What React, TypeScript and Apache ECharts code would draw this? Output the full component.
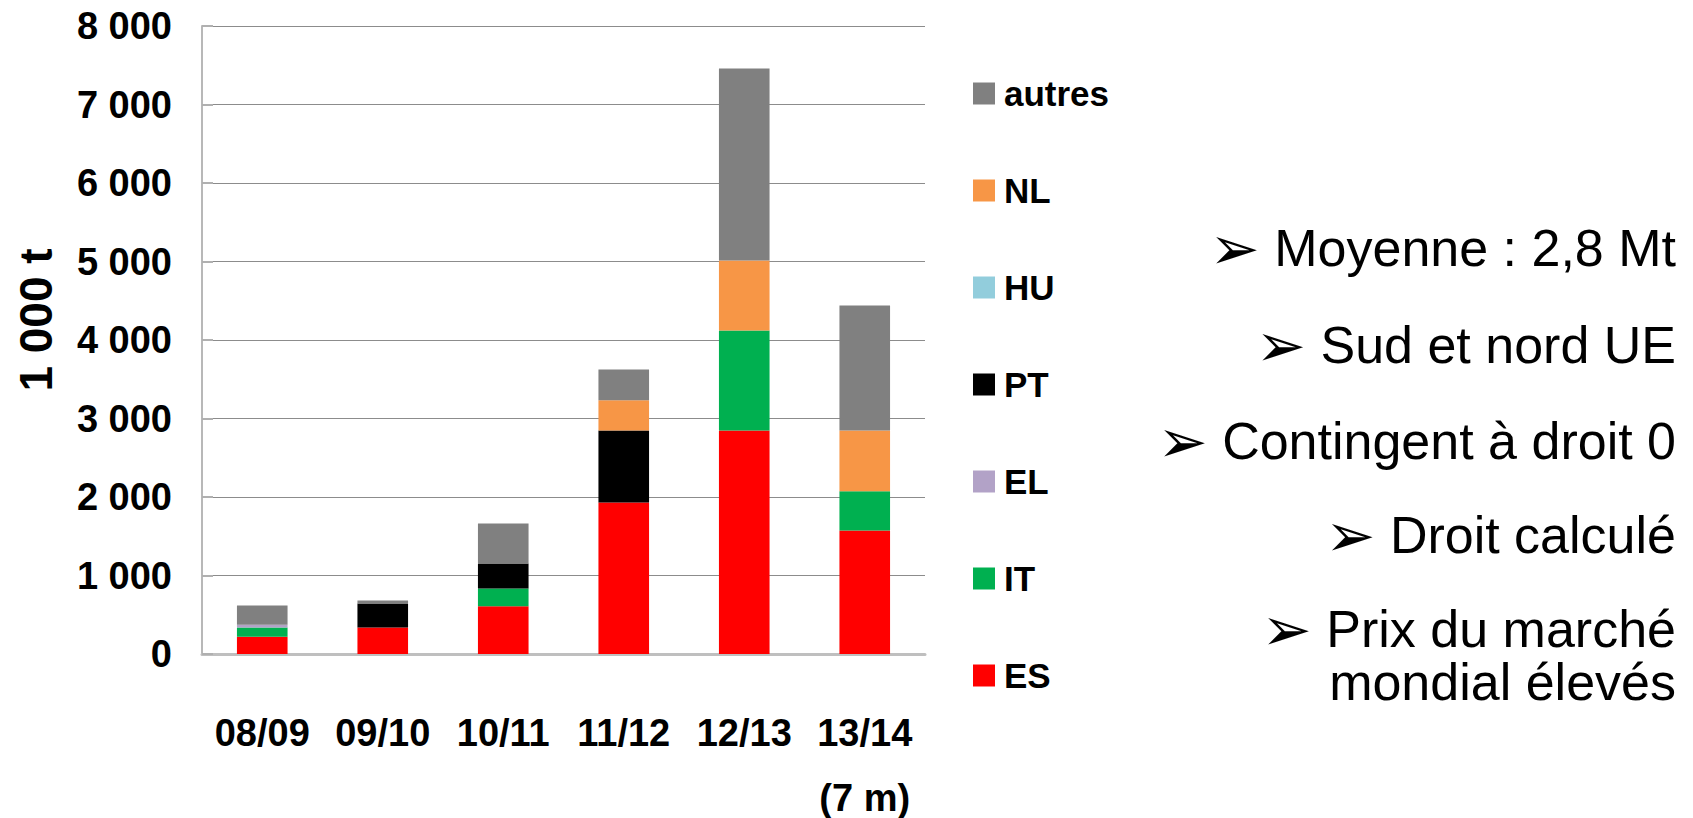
import React, { useEffect, useRef } from "react";
import * as echarts from "echarts";

const categories = ["08/09", "09/10", "10/11", "11/12", "12/13", "13/14\n(7 m)"];
const ES = [221, 336, 609, 1930, 2847, 1572];
const IT = [115, 0, 225, 0, 1275, 502];
const EL = [38, 0, 0, 0, 0, 0];
const PT = [0, 307, 319, 917, 0, 0];
const HU = [0, 0, 0, 0, 0, 0];
const NL = [0, 0, 0, 384, 891, 773];
const autres = [243, 38, 511, 394, 2447, 1592];

const yTicks = [0, 1000, 2000, 3000, 4000, 5000, 6000, 7000, 8000];
const yTickLabels = ["0", "1 000", "2 000", "3 000", "4 000", "5 000", "6 000", "7 000", "8 000"];

const bullets = [
  "Moyenne : 2,8 Mt",
  "Sud et nord UE",
  "Contingent à droit 0",
  "Droit calculé",
  "Prix du marché",
  "mondial élevés",
];
const bulletHasArrow = [true, true, true, true, true, false];

const seriesDefs = [
  { name: "ES", data: ES, color: "#FF0000" },
  { name: "IT", data: IT, color: "#00B050" },
  { name: "EL", data: EL, color: "#B2A2C7" },
  { name: "PT", data: PT, color: "#000000" },
  { name: "HU", data: HU, color: "#92CDDC" },
  { name: "NL", data: NL, color: "#F79646" },
  { name: "autres", data: autres, color: "#808080" },
];

const SANS = "'Liberation Sans', Arial, sans-serif";

export default function App() {
  const ref = useRef<HTMLDivElement>(null);
  useEffect(() => {
    document.body.style.margin = "0";
    const chart = echarts.init(ref.current!, null, { renderer: "svg" });
    const bulletY = [248, 345, 441, 535, 629, 682];
    chart.setOption({
      animation: false,
      backgroundColor: "#ffffff",
      grid: {
        left: 202,
        right: 768,
        top: 26,
        bottom: 164,
        containLabel: false,
        outerBoundsMode: "none",
      },
      legend: {
        orient: "vertical",
        left: 968,
        top: 71,
        itemGap: 62,
        itemWidth: 22,
        itemHeight: 22,
        icon: "rect",
        selectedMode: false,
        data: ["autres", "NL", "HU", "PT", "EL", "IT", "ES"],
        textStyle: {
          fontFamily: SANS,
          fontWeight: "bold",
          fontSize: 35,
          lineHeight: 35,
          color: "#000",
          padding: [0, 0, 0, 4],
        },
      },
      xAxis: {
        type: "category",
        data: categories,
        axisLine: { show: true, lineStyle: { color: "#bfbfbf", width: 3 } },
        axisTick: { show: false },
        axisLabel: {
          fontFamily: SANS,
          fontWeight: "bold",
          fontSize: 38,
          lineHeight: 65,
          color: "#000",
          margin: 46,
          interval: 0,
        },
      },
      yAxis: {
        type: "value",
        min: 0,
        max: 8000,
        interval: 1000,
        axisLine: { show: true, lineStyle: { color: "#b8b8b8", width: 2 } },
        axisTick: { show: true, inside: true, length: 11, lineStyle: { color: "#b0b0b0", width: 2 } },
        splitLine: { show: true, lineStyle: { color: "#8c8c8c", width: 1 } },
        axisLabel: {
          fontFamily: SANS,
          fontWeight: "bold",
          fontSize: 38,
          color: "#000",
          margin: 30,
          formatter: (v: number) => {
            const i = yTicks.indexOf(v);
            return i >= 0 ? yTickLabels[i] : String(v);
          },
        },
      },
      series: seriesDefs.map((s) => ({
        name: s.name,
        type: "bar",
        stack: "total",
        barWidth: "42%",
        data: s.data,
        itemStyle: { color: s.color },
        emphasis: { disabled: true },
      })),
      graphic: [
        {
          type: "text",
          x: 36,
          y: 320,
          rotation: Math.PI / 2,
          style: {
            text: "1 000 t",
            fontFamily: SANS,
            fontWeight: "bold",
            fontSize: 46,
            fill: "#000",
            align: "center",
            verticalAlign: "middle",
          },
        },
        ...bullets.map((b, i) => ({
          type: "text",
          x: 1676,
          y: bulletY[i],
          style: {
            text: bulletHasArrow[i] ? "{a|➢}{t| " + b + "}" : "{t|" + b + "}",
            fill: "#000",
            align: "right",
            verticalAlign: "middle",
            rich: {
              a: { fontFamily: "'DejaVu Sans', sans-serif", fontSize: 60, fill: "#000", verticalAlign: "middle" },
              t: { fontFamily: SANS, fontSize: 52, fill: "#000", verticalAlign: "middle" },
            },
          },
        })),
      ],
    });
    return () => chart.dispose();
  }, []);
  return <div ref={ref} style={{ width: 1693, height: 818, overflow: "hidden" }} />;
}
